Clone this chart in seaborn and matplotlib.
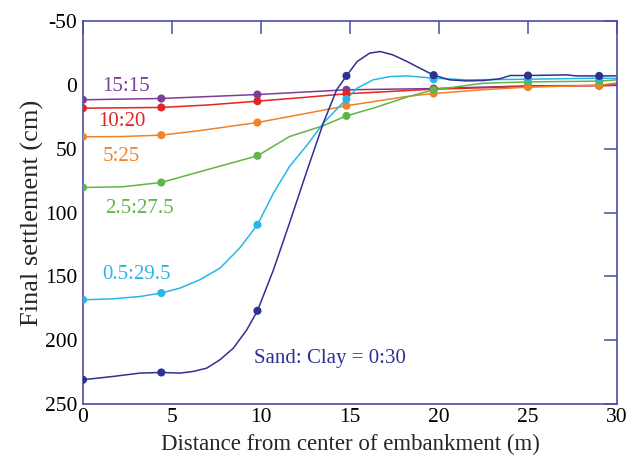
import matplotlib
matplotlib.use("Agg")
import matplotlib.pyplot as plt
import seaborn as sns
import pandas as pd

# ---- data ----
x_pts = [0, 4.4, 9.8, 14.8, 19.7, 25, 29]

series_names = ["15:15", "10:20", "5:25", "2.5:27.5", "0.5:29.5", "Sand: Clay = 0:30"]
colors = ["#7d3c98", "#e52421", "#f08228", "#62b446", "#29b5e8", "#2e3192"]

y_1515 = [11.7, 10.7, 7.6, 3.9, 2.9, 0.8, 0.5]
y_1020 = [18.3, 17.7, 12.8, 7.0, 3.4, 1.3, 0.6]
y_525 = [40.7, 39.4, 29.5, 16.4, 6.8, 1.8, 0.3]
y_2527 = [80.4, 76.5, 55.6, 24.3, 3.9, -2.3, -2.9]
y_0529 = [168.4, 163.1, 109.6, 11.2, -4.4, -5.0, -5.2]
y_030 = [231.0, 225.3, 177.0, -7.0, -7.6, -7.3, -7.0]

# traced curve points (lines between markers)
lx_1515 = [0, 4.4, 9.8, 14.8, 19.7, 25, 29, 30]
ly_1515 = [11.7, 10.7, 7.6, 3.9, 2.9, 0.8, 0.5, 0.4]
lx_1020 = [0, 4.4, 7.0, 9.8, 12.3, 14.8, 19.7, 25, 29, 30]
ly_1020 = [18.3, 17.7, 15.8, 12.8, 10.0, 7.0, 3.4, 1.3, 0.6, 0.4]
lx_525 = [0, 2.2, 4.4, 6.6, 9.8, 12.3, 14.8, 18.2, 19.7, 22.5, 25, 29, 30]
ly_525 = [40.7, 40.5, 39.4, 35.8, 29.5, 23.0, 16.4, 9.1, 6.8, 3.8, 1.8, 0.3, -1.5]
lx_2527 = [0, 2.2, 4.4, 6.6, 9.8, 11.6, 13.5, 14.8, 16.3, 18.2, 19.7, 22.5, 25, 29, 30]
ly_2527 = [80.4, 79.9, 76.5, 67.9, 55.6, 40.5, 32.0, 24.3, 18.3, 9.6, 3.9, -1.3, -2.3, -2.9, -3.9]
lx_0529 = [0, 1.7, 3.2, 4.4, 5.45, 6.57, 7.7, 8.8, 9.8, 10.7, 11.6, 12.6, 13.5, 14.8,
           15.4, 16.3, 17.25, 18.2, 19.7, 21.55, 25, 29, 30]
ly_0529 = [168.4, 167.6, 165.8, 163.1, 159.2, 152.7, 143.5, 127.9, 109.6, 84.8, 64.0, 47.0,
           30.0, 11.2, 2.6, -3.9, -6.5, -7.0, -5.2, -3.9, -4.4, -5.2, -5.0]
lx_030 = [0, 1.7, 3.2, 4.4, 5.45, 6.2, 6.95, 7.7, 8.45, 9.2, 9.8, 10.7, 11.6, 12.6, 13.5,
          14.25, 14.8, 15.4, 16.1, 16.7, 17.4, 18.2, 18.75, 19.7, 20.6, 21.55, 22.5, 23.4,
          24.0, 25, 27.2, 27.7, 29, 30]
ly_030 = [231.0, 228.4, 225.8, 225.3, 225.8, 224.5, 221.9, 215.3, 206.2, 191.9, 177.0, 144.9,
          108.3, 66.6, 30.0, 3.9, -7.0, -18.2, -24.8, -26.1, -23.5, -18.3, -14.3, -7.6, -3.9,
          -3.1, -3.4, -4.7, -7.3, -7.3, -7.8, -7.0, -7.0, -7.0]

label_x = [1.05, 0.85, 1.1, 1.25, 1.1, 9.6]
label_y = [1.3, 28.7, 56.0, 97.0, 148.5, 214.5]

x_ticks = [0, 5, 10, 15, 20, 25, 30]
y_ticks = [-50, 0, 50, 100, 150, 200, 250]

# ---- build tables ----
pts_y = [y_1515, y_1020, y_525, y_2527, y_0529, y_030]
lines_x = [lx_1515, lx_1020, lx_525, lx_2527, lx_0529, lx_030]
lines_y = [ly_1515, ly_1020, ly_525, ly_2527, ly_0529, ly_030]

pts_df = pd.concat([pd.DataFrame({"x": x_pts, "y": ys, "ratio": n})
                    for n, ys in zip(series_names, pts_y)], ignore_index=True)
line_df = pd.concat([pd.DataFrame({"x": xs, "y": ys, "ratio": n})
                     for n, xs, ys in zip(series_names, lines_x, lines_y)], ignore_index=True)
palette = dict(zip(series_names, colors))

sns.set_style("white")
plt.rcParams["font.family"] = ["Liberation Serif", "DejaVu Serif"]

fig = plt.figure(figsize=(6.27, 4.57), dpi=100)
ax = fig.add_axes([83 / 627, 1 - 404 / 457, (617 - 83) / 627, (404 - 21) / 457])

sns.lineplot(data=line_df, x="x", y="y", hue="ratio", palette=palette, sort=False,
             estimator=None, linewidth=1.1, legend=False, ax=ax)
sns.scatterplot(data=pts_df, x="x", y="y", hue="ratio", palette=palette, s=34,
                edgecolor="none", legend=False, ax=ax, zorder=3)

for name, c, lx, ly in zip(series_names, colors, label_x, label_y):
    ax.text(lx, ly, name, color=c, fontsize=15, ha="left", va="center")

ax.set_xlim(0, 30)
ax.set_ylim(250, -50)
ax.set_xticks(x_ticks)
ax.set_yticks(y_ticks)
ax.set_xticklabels([str(t) for t in x_ticks], fontsize=15.5)
ax.set_yticklabels([str(t) for t in y_ticks], fontsize=15.5)
ax.set_xlabel("Distance from center of embankment (m)", fontsize=16.5, labelpad=5)
ax.set_ylabel("Final settlement (cm)", fontsize=19, labelpad=1)

spine_c = "#4b4ba6"
for s in ax.spines.values():
    s.set_color(spine_c)
    s.set_linewidth(1.2)
ax.tick_params(direction="in", length=9.5, width=1.1, color=spine_c,
               top=True, right=True, labelcolor="black")
ax.tick_params(axis="x", pad=3)
ax.tick_params(axis="y", pad=4)

fig.savefig("out.png", dpi=100)
